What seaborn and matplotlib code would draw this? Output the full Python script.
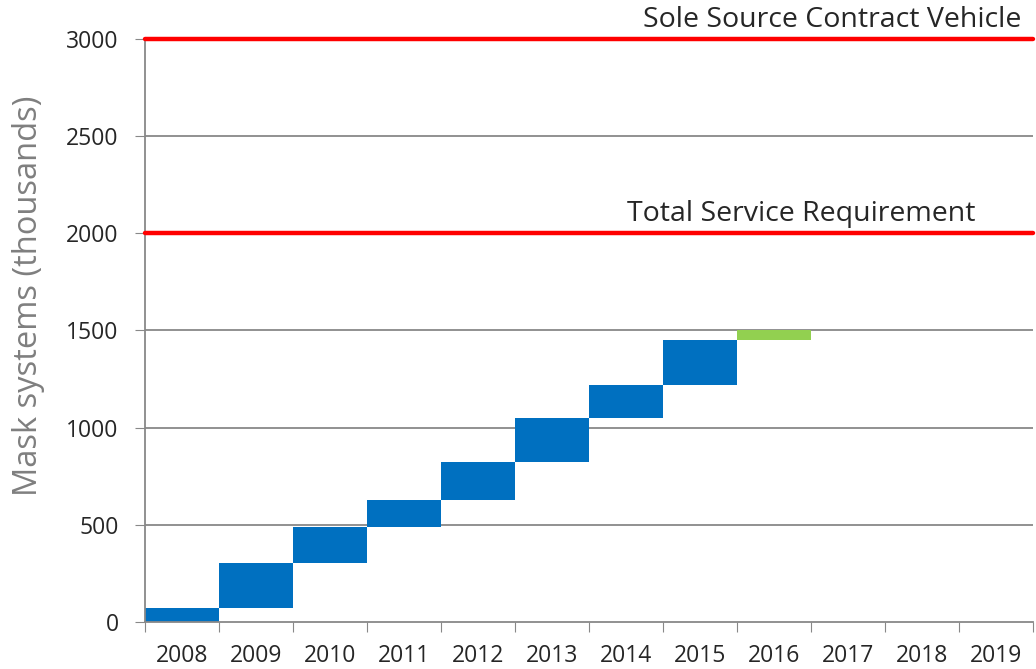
import numpy as np
import pandas as pd
import seaborn as sns
import matplotlib.pyplot as plt

# Values (thousands of mask systems)
years = ["2008", "2009", "2010", "2011", "2012", "2013", "2014",
         "2015", "2016", "2017", "2018", "2019"]
funded_years = ["2008", "2009", "2010", "2011", "2012", "2013", "2014", "2015", "2016"]
increments = [74, 231, 185, 140, 193, 227, 168, 232, 50]
bar_colors = ["#0070c0"] * 8 + ["#92d050"]

requirement_levels = [2000, 3000]
requirement_labels = ["Total Service Requirement", "Sole Source Contract Vehicle"]

sns.set_style("white")
plt.rcParams['font.family'] = ['Open Sans', 'DejaVu Sans']

df = pd.DataFrame({"year": funded_years, "increment": increments})
bottoms = np.concatenate([[0], np.cumsum(increments)[:-1]])

fig = plt.figure(figsize=(10.36, 6.69), dpi=100)
ax = fig.add_axes([0.14, 0.0703, 0.857, 0.8714])

for y in range(500, 3001, 500):
    ax.axhline(y, color="#888888", lw=1.3, zorder=0)

sns.barplot(data=df, x="year", y="increment", order=years, bottom=bottoms,
            color=bar_colors[0], width=1.0, linewidth=0, saturation=1, ax=ax)
for patch, c in zip(ax.patches, bar_colors):
    patch.set_facecolor(c)

for level in requirement_levels:
    ax.axhline(level, color="#ff0000", lw=3.2, zorder=3, clip_on=False)

ax.text(8.37, 2025, requirement_labels[0], ha="center", va="bottom", fontsize=20.5)
ax.text(11.35, 3025, requirement_labels[1], ha="right", va="bottom", fontsize=20.5)

ax.set_xlim(-0.5, 11.5)
ax.set_ylim(0, 3000)
ax.set_yticks(range(0, 3001, 500))
ax.set_xticks(np.arange(-0.5, 12, 1.0))
ax.set_xticklabels([])
ax.set_xticks(np.arange(0, 12), minor=True)
ax.set_xticklabels(years, minor=True, fontsize=16.5)
ax.tick_params(axis="x", which="major", length=7, color="#888888", direction="out", bottom=True)
ax.tick_params(axis="x", which="minor", length=0, pad=16)
ax.tick_params(axis="y", length=7, color="#888888", direction="out", left=True, labelsize=16.5, pad=12)

ax.set_xlabel("")
ax.set_ylabel("Mask systems (thousands)", fontsize=23.5, color="#7f7f7f")
ax.yaxis.set_label_coords(-0.113, 0.559)

sns.despine(ax=ax, top=True, right=True)
for side in ["left", "bottom"]:
    ax.spines[side].set_color("#888888")
    ax.spines[side].set_linewidth(1.3)

fig.savefig("out.png", dpi=100)
